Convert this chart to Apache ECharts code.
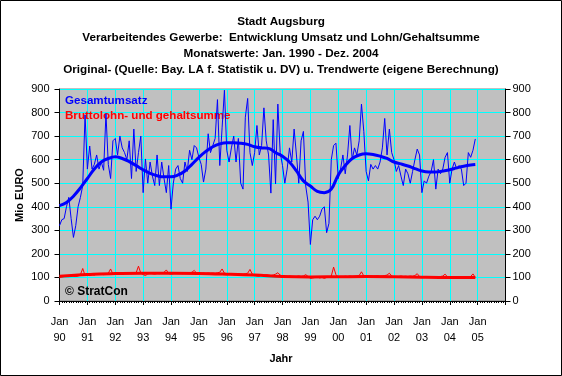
<!DOCTYPE html>
<html><head><meta charset="utf-8">
<script src="https://cdn.jsdelivr.net/npm/echarts@6/dist/echarts.min.js"></script>
<style>html,body{margin:0;padding:0;background:#fff}#c{width:562px;height:376px}</style>
</head><body><div id="c"></div>
<script>
// Monthly values, Jan 1990 .. Dec 2004 (Mio EURO)
const gesamtumsatz = [
  320,345,350,400,440,350,270,320,400,440,490,790,   // 1990
  560,658,560,580,620,560,590,555,795,580,520,680,   // 1991
  690,620,700,650,630,600,680,520,730,550,630,700,   // 1992
  460,603,500,590,530,490,620,490,590,520,460,575,   // 1993
  390,500,560,575,520,500,590,550,640,600,660,650,   // 1994
  610,580,505,560,710,630,660,690,855,575,735,895,   // 1995
  640,590,650,700,590,690,500,475,780,860,630,575,   // 1996
  630,745,620,660,820,680,620,458,770,497,836,630,   // 1997
  575,500,560,650,590,730,620,500,680,720,488,420,   // 1998
  240,345,360,345,360,390,400,290,330,600,660,670,   // 1999
  520,560,620,540,620,745,600,650,620,680,836,720,   // 2000
  550,510,580,560,575,560,590,650,775,620,730,630,   // 2001
  600,550,575,530,490,560,540,500,550,600,645,620,   // 2002
  460,510,500,530,550,600,475,560,540,560,610,630,   // 2003
  500,560,590,560,575,560,490,500,630,610,640,688    // 2004
];
const bruttolohn = [
  100,102,104,106,104,108,105,104,106,112,138,108,
  110,108,112,110,115,112,114,112,113,118,136,114,
  116,114,118,116,120,118,117,116,118,120,148,118,
  112,108,115,118,116,114,117,116,118,122,132,116,
  114,116,118,117,119,116,118,117,120,122,130,118,
  115,116,118,117,119,118,119,118,120,122,136,118,
  116,114,116,115,117,116,115,114,116,118,134,114,
  108,106,105,110,109,112,110,108,110,114,120,110,
  104,100,102,106,104,102,104,106,104,106,112,104,
   96, 98,100,102, 98,100, 96,100,102,106,144,112,
  102,104,103,105,104,106,104,105,106,108,124,106,
  104,106,105,104,106,107,105,106,108,110,118,106,
  102,103,104,106,104,105,104,106,105,108,116,104,
  100,102,101,103,102,104,103,102,104,106,114,102,
   98,100, 99,101,100,102,101,100,102,104,115,100
];
// Trend values (own calculation), read at these month indices
const trendUmsatzMonths = [0,3,6,9,12,15,18,21,24,27,30,33,36,39,42,45,48,51,54,57,60,63,66,69,72,75,78,81,84,87,90,93,96,99,102,105,108,111,114,117,120,123,126,129,132,135,138,141,144,147,150,153,156,159,162,165,168,171,174,177,179];
const trendUmsatz = [405,418,445,480,520,560,590,605,612,605,592,575,557,542,532,527,527,535,552,580,610,635,655,667,672,672,670,665,655,650,648,630,615,590,552,510,488,465,460,475,535,575,605,620,625,622,615,605,590,582,573,562,552,548,548,552,557,565,572,577,579];
const trendLohnMonths = [0,12,24,36,48,60,72,84,96,108,120,132,144,156,168,179];
const trendLohn = [105,112,117,118,118,117,114,110,104,102,103,104,103,101,100,100];
const yearLabels = ['90','91','92','93','94','95','96','97','98','99','00','01','02','03','04','05'];
const titleLines = ['Stadt Augsburg','Verarbeitendes Gewerbe:  Entwicklung Umsatz und Lohn/Gehaltsumme','Monatswerte: Jan. 1990 - Dez. 2004','Original- (Quelle: Bay. LA f. Statistik u. DV) u. Trendwerte (eigene Berechnung)'];

const F = '"Liberation Sans", Arial, sans-serif';
const chart = echarts.init(document.getElementById('c'), null, {renderer:'canvas'});
const yAxisCommon = {
  type:'value', min:0, max:900, interval:100,
  axisLine:{show:true, lineStyle:{color:'#000'}},
  axisTick:{show:true, length:5, lineStyle:{color:'#000'}},
  axisLabel:{color:'#000', fontFamily:F, fontSize:11},
};
chart.setOption({
  animation:false,
  backgroundColor:'#fff',
  textStyle:{fontFamily:F},
  title:{
    text: titleLines.join('\n'), left:'center', top:9,
    textStyle:{fontFamily:F, fontSize:11.7, fontWeight:'bold', color:'#000', lineHeight:16}
  },
  legend:{
    orient:'vertical', left:54, top:90, itemWidth:0, itemHeight:0, itemGap:3,
    selectedMode:false,
    data:[
      {name:'Gesamtumsatz', textStyle:{color:'#0000ff'}},
      {name:'Bruttolohn- und gehaltsumme', textStyle:{color:'#ff0000'}}
    ],
    textStyle:{fontFamily:F, fontSize:11.6, fontWeight:'bold'}
  },
  grid:{left:59.5, right:56.5, top:89, bottom:75, show:true, backgroundColor:'#c0c0c0', borderColor:'#808080', borderWidth:1},
  xAxis:{
    type:'value', min:0, max:192, interval:12,
    axisLine:{show:true, onZero:false, lineStyle:{color:'#000'}},
    axisTick:{show:true, length:4, lineStyle:{color:'#000'}},
    minorTick:{show:true, splitNumber:12, length:2, lineStyle:{color:'#000'}},
    splitLine:{show:true, lineStyle:{color:'#00ffff', width:1}},
    axisLabel:{color:'#000', fontFamily:F, fontSize:11, lineHeight:16, margin:13,
      formatter:function(v){ const i=Math.round(v/12); return (i < yearLabels.length) ? 'Jan\n'+yearLabels[i] : ''; }}
  },
  yAxis:[
    Object.assign({}, yAxisCommon, {position:'left', axisLabel:Object.assign({}, yAxisCommon.axisLabel, {margin:10}),
      splitLine:{show:true, lineStyle:{color:'#00ffff', width:1}}}),
    Object.assign({}, yAxisCommon, {position:'right', axisLabel:Object.assign({}, yAxisCommon.axisLabel, {margin:7}),
      splitLine:{show:false}})
  ],
  graphic:[
    {type:'rect', shape:{x:0.5, y:0.5, width:561, height:375}, style:{fill:'none', stroke:'#000', lineWidth:1}, silent:true},
    {type:'text', x:20, y:195, rotation:Math.PI/2, style:{text:'Mio EURO', fontFamily:F, fontSize:11, fontWeight:'bold', fill:'#000', textAlign:'center', textVerticalAlign:'middle'}},
    {type:'text', x:281, y:359, style:{text:'Jahr', fontFamily:F, fontSize:11, fontWeight:'bold', fill:'#000', textAlign:'center', textVerticalAlign:'middle'}},
    {type:'text', x:65, y:292, style:{text:'© StratCon', fontFamily:F, fontSize:12, fontWeight:'bold', fill:'#000', textAlign:'left', textVerticalAlign:'middle'}, z:100}
  ],
  series:[
    {name:'Trend Gesamtumsatz', type:'line', data:trendUmsatz.map((v,i)=>[trendUmsatzMonths[i], v]), smooth:0.4, showSymbol:false, lineStyle:{color:'#0000ff', width:3}, itemStyle:{color:'#0000ff'}, z:3},
    {name:'Gesamtumsatz', type:'line', data:gesamtumsatz.map((v,i)=>[i, v]), showSymbol:false, lineStyle:{color:'#0000ff', width:1}, itemStyle:{color:'#0000ff'}, z:4},
    {name:'Bruttolohn- und gehaltsumme', type:'line', data:bruttolohn.map((v,i)=>[i, v]), showSymbol:false, lineStyle:{color:'#ff0000', width:1}, itemStyle:{color:'#ff0000'}, z:4},
    {name:'Trend Bruttolohn', type:'line', data:trendLohn.map((v,i)=>[trendLohnMonths[i], v]), smooth:0.4, showSymbol:false, lineStyle:{color:'#ff0000', width:3}, itemStyle:{color:'#ff0000'}, z:5}
  ]
});
</script></body></html>
